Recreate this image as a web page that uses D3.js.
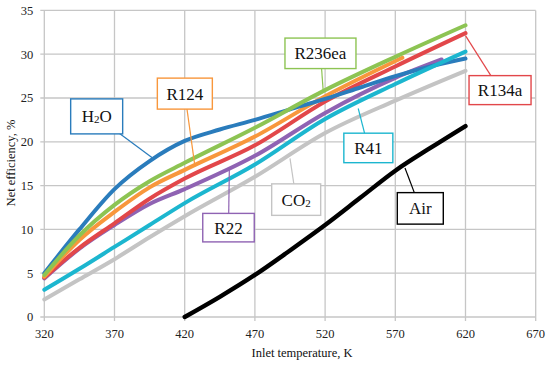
<!DOCTYPE html>
<html><head><meta charset="utf-8">
<script src="https://cdn.jsdelivr.net/npm/d3@7/dist/d3.min.js"></script>
<style>body{margin:0;background:#fff}svg{display:block}
text{font-family:"Liberation Serif","Tinos","DejaVu Serif","Times New Roman",serif;}</style>
</head><body><svg id="c" width="550" height="365"></svg>
<script>
// ---- data ----
const xTicks = [320, 370, 420, 470, 520, 570, 620, 670];
const yTicks = [0, 5, 10, 15, 20, 25, 30, 35];
const xTitle = "Inlet temperature,  K";
const yTitle = "Net efficiency,  %";

const tCommon = [320, 345, 370, 395, 420, 470, 520, 570, 620];
const tH2O = [320, 345, 370, 395, 420, 445, 470, 495, 520, 545, 570, 595, 620];
const vH2O = [5.0, 10.0, 14.6, 17.8, 20.1, 21.4, 22.5, 23.7, 24.9, 26.2, 27.5, 28.6, 29.5];
const vR236ea = [4.8, 9.3, 12.8, 15.5, 17.6, 21.6, 25.9, 29.7, 33.3];
const tR124 = [320, 345, 370, 395, 420, 470, 520, 575];
const vR124 = [4.6, 8.8, 12.0, 14.8, 16.8, 20.6, 25.2, 29.6];
const vR134a = [4.5, 7.9, 10.7, 13.5, 15.8, 19.6, 24.6, 28.6, 32.4];
const tR22 = [320, 345, 370, 395, 420, 470, 520, 570, 603];
const vR22 = [4.4, 7.8, 10.5, 12.9, 14.6, 18.4, 23.3, 27.3, 29.4];
const vR41 = [3.1, 5.5, 8.0, 10.5, 13.0, 17.4, 22.6, 26.6, 30.3];
const vCO2 = [2.0, 4.3, 6.6, 9.1, 11.5, 16.0, 21.0, 24.7, 28.1];
const tAir = [420, 445, 470, 495, 520, 545, 570, 595, 620];
const vAir = [0, 2.3, 4.8, 7.6, 10.5, 13.6, 16.7, 19.3, 21.8];

// ---- styles / layout ----
const colors = {
  H2O: "#2a7cbc", R236ea: "#8dc453", R124: "#f8973c", R134a: "#e2474a",
  R22: "#8f63b3", R41: "#1cb6cf", CO2: "#c4c4c4", Air: "#000000"
};
const series = [
  {name: "CO2", t: tCommon, v: vCO2},
  {name: "Air", t: tAir, v: vAir},
  {name: "R22", t: tR22, v: vR22},
  {name: "R134a", t: tCommon, v: vR134a},
  {name: "R124", t: tR124, v: vR124},
  {name: "H2O", t: tH2O, v: vH2O},
  {name: "R41", t: tCommon, v: vR41},
  {name: "R236ea", t: tCommon, v: vR236ea}
];
const callouts = [
  {name: "H2O", label: ["H", "2", "O"], cx: 357.3, cy: 22.9, w: 52, h: 35, ax: 397.6, ay: 18.1},
  {name: "R124", label: ["R124"], cx: 420.1, cy: 25.5, w: 55, h: 31, ax: 427.3, ay: 17.2},
  {name: "R236ea", label: ["R236ea"], cx: 516.7, cy: 30.1, w: 71, h: 30.5, ax: 518.7, ay: 25.7},
  {name: "R41", label: ["R41"], cx: 550.8, cy: 19.3, w: 49, h: 29.5, ax: 543.6, ay: 23.8},
  {name: "R134a", label: ["R134a"], cx: 644.6, cy: 25.9, w: 62, h: 29, ax: 620.1, ay: 32.1},
  {name: "R22", label: ["R22"], cx: 451.2, cy: 10.2, w: 51.5, h: 28.5, ax: 451.8, ay: 17.0},
  {name: "CO2", label: ["CO", "2", ""], cx: 499.4, cy: 13.4, w: 49, h: 31.5, ax: 495.0, ay: 18.1},
  {name: "Air", label: ["Air"], cx: 587.8, cy: 12.4, w: 46, h: 31.5, ax: 576.9, ay: 17.0}
];

const svg = d3.select("#c");
const x = d3.scaleLinear().domain([320, 670]).range([44.3, 535.7]);
const y = d3.scaleLinear().domain([0, 35]).range([317, 10.4]);
const gridColor = "#c6c6c6";

const g = svg.append("g");
g.selectAll("line.v").data(xTicks).join("line")
  .attr("x1", d => x(d)).attr("x2", d => x(d))
  .attr("y1", y(35)).attr("y2", y(0) + 4)
  .attr("stroke", gridColor).attr("stroke-width", 1.3);
g.selectAll("line.h").data(yTicks).join("line")
  .attr("x1", x(320) - 4).attr("x2", x(670))
  .attr("y1", d => y(d)).attr("y2", d => y(d))
  .attr("stroke", gridColor).attr("stroke-width", 1.3);

svg.append("g").selectAll("text").data(xTicks).join("text")
  .attr("x", d => x(d)).attr("y", y(0) + 20.5)
  .attr("text-anchor", "middle").attr("font-size", 12.5)
  .attr("fill", "#222").text(d => d);
svg.append("g").selectAll("text").data(yTicks).join("text")
  .attr("x", x(320) - 11).attr("y", d => y(d) + 4.3)
  .attr("text-anchor", "end").attr("font-size", 12.5)
  .attr("fill", "#222").text(d => d);

svg.append("text").attr("x", 302).attr("y", 356.5).attr("text-anchor", "middle")
  .attr("font-size", 12.5).attr("fill", "#111").text(xTitle);
svg.append("text").attr("transform", "translate(15,163) rotate(-90)").attr("text-anchor", "middle")
  .attr("font-size", 12.5).attr("fill", "#111").text(yTitle);

const line = d3.line().curve(d3.curveMonotoneX)
  .x(d => x(d[0])).y(d => y(d[1]));
svg.append("g").selectAll("path").data(series).join("path")
  .attr("d", s => line(s.t.map((t, i) => [t, s.v[i]])))
  .attr("fill", "none").attr("stroke", s => colors[s.name])
  .attr("stroke-width", s => s.name === "Air" ? 4.4 : 4)
  .attr("stroke-linecap", "round").attr("stroke-linejoin", "round");

const cg = svg.append("g").selectAll("g").data(callouts).join("g");
cg.append("line")
  .attr("x1", c => x(c.cx)).attr("y1", c => y(c.cy))
  .attr("x2", c => x(c.ax)).attr("y2", c => y(c.ay))
  .attr("stroke", c => colors[c.name]).attr("stroke-width", 1.2);
cg.append("rect")
  .attr("x", c => x(c.cx) - c.w / 2).attr("y", c => y(c.cy) - c.h / 2)
  .attr("width", c => c.w).attr("height", c => c.h)
  .attr("fill", "#fff").attr("stroke", c => colors[c.name]).attr("stroke-width", 1.4);
cg.each(function(c) {
  const t = d3.select(this).append("text")
    .attr("x", x(c.cx)).attr("y", y(c.cy) + 6)
    .attr("text-anchor", "middle").attr("font-size", 17).attr("fill", "#111");
  if (c.label.length === 1) {
    t.text(c.label[0]);
  } else {
    t.append("tspan").text(c.label[0]);
    t.append("tspan").attr("font-size", 11).attr("dy", 1).text(c.label[1]);
    if (c.label[2]) t.append("tspan").attr("dy", -1).text(c.label[2]);
  }
});
</script></body></html>
